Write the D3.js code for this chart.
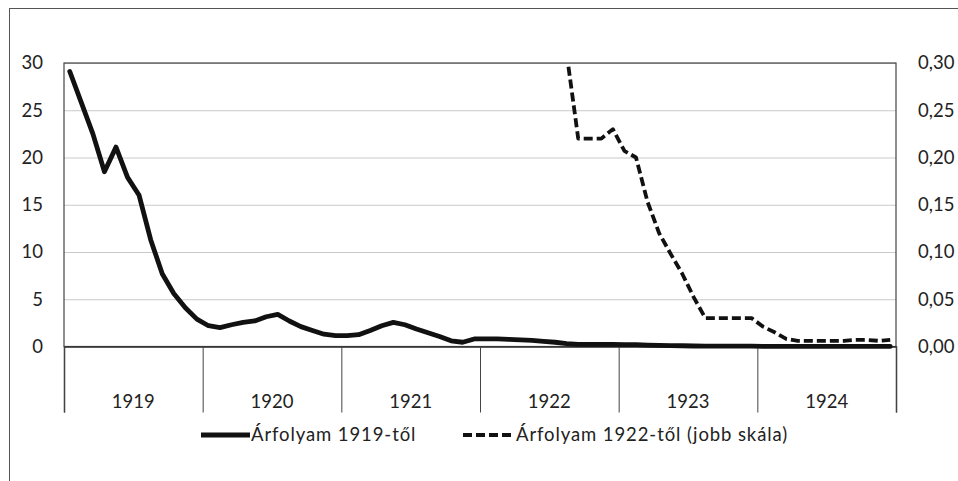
<!DOCTYPE html>
<html>
<head>
<meta charset="utf-8">
<script src="https://cdn.jsdelivr.net/npm/d3@7"></script>
<style>
    html, body { margin: 0; padding: 0; background: #fff; }
    svg { display: block; }
    text { font-family: Lato, "Noto Sans", sans-serif; fill: #222; }
</style>
</head>
<body>
<svg id="chart" width="958" height="481"></svg>
<script>
/**
 * Exchange rate chart, 1919-1924
 */
(function () {

    var years = ["1919", "1920", "1921", "1922", "1923", "1924"];
    var leftTicks = [0, 5, 10, 15, 20, 25, 30];
    var rightTicks = [0, 0.05, 0.10, 0.15, 0.20, 0.25, 0.30];

    // monthly values, Jan 1919 - Dec 1924
    var rate1919 = [29.1, 25.8, 22.5, 18.5, 21.1, 17.9, 16.0, 11.3, 7.7, 5.6, 4.1, 2.9];
    var rate1920 = [2.2, 2.0, 2.3, 2.55, 2.7, 3.15, 3.4, 2.7, 2.1, 1.7, 1.3, 1.15];
    var rate1921 = [1.15, 1.25, 1.7, 2.2, 2.55, 2.3, 1.85, 1.45, 1.05, 0.6, 0.45, 0.8];
    var rate1922 = [0.8, 0.8, 0.75, 0.7, 0.65, 0.55, 0.45, 0.31, 0.22, 0.22, 0.22, 0.23];
    var rate1923 = [0.207, 0.2, 0.153, 0.12, 0.098, 0.077, 0.052, 0.03, 0.03, 0.03, 0.03, 0.03];
    var rate1924 = [0.021, 0.015, 0.008, 0.006, 0.006, 0.006, 0.006, 0.006, 0.007, 0.007, 0.006, 0.007];

    var seriesNames = ["Árfolyam 1919-től", "Árfolyam 1922-től (jobb skála)"];
    var dashedFrom = 36; // second series starts in January 1922

    var rates = [].concat(rate1919, rate1920, rate1921, rate1922, rate1923, rate1924);

    var plot = { left: 64, right: 896, top: 63, bottom: 346.5 };
    var months = rates.length;
    var fontSize = 18.5;

    var svg = d3.select("#chart");
    var huFormat = d3.formatLocale({ decimal: ",", thousands: " ", grouping: [3], currency: ["", " Ft"] }).format(".2f");

    // outer frame (runs off the right and bottom edges)
    svg.append("rect")
        .attr("x", 9.5).attr("y", 8.5)
        .attr("width", 1000).attr("height", 600)
        .attr("fill", "none")
        .attr("stroke", "#555")
        .attr("stroke-width", 1);

    var x = d3.scaleLinear().domain([0, months]).range([plot.left, plot.right]);
    var yLeft = d3.scaleLinear().domain([0, 30]).range([plot.bottom, plot.top]);
    var yRight = d3.scaleLinear().domain([0, 0.30]).range([plot.bottom, plot.top]);

    svg.append("clipPath").attr("id", "plotClip")
        .append("rect")
        .attr("x", plot.left).attr("y", plot.top)
        .attr("width", plot.right - plot.left)
        .attr("height", plot.bottom - plot.top);

    // gridlines
    svg.append("g")
        .attr("transform", "translate(" + plot.left + ",0)")
        .call(d3.axisLeft(yLeft).tickValues(leftTicks).tickSize(-(plot.right - plot.left)).tickFormat(""))
        .call(function (g) {
            g.select(".domain").remove();
            g.selectAll("line").attr("stroke", "#c9c9c9").attr("stroke-width", 1.2);
        });

    // plot border
    svg.append("rect")
        .attr("x", plot.left).attr("y", plot.top)
        .attr("width", plot.right - plot.left)
        .attr("height", plot.bottom - plot.top)
        .attr("fill", "none")
        .attr("stroke", "#444")
        .attr("stroke-width", 1.2);

    // left axis labels
    svg.append("g")
        .attr("transform", "translate(" + plot.left + ",0)")
        .call(d3.axisLeft(yLeft).tickValues(leftTicks).tickSize(0).tickPadding(21).tickFormat(d3.format("d")))
        .call(function (g) {
            g.select(".domain").remove();
            g.selectAll("text").attr("font-size", fontSize).style("font-family", null);
        });

    // right axis labels
    svg.append("g")
        .attr("transform", "translate(" + plot.right + ",0)")
        .call(d3.axisRight(yRight).tickValues(rightTicks).tickSize(0).tickPadding(22).tickFormat(huFormat))
        .call(function (g) {
            g.select(".domain").remove();
            g.selectAll("text").attr("font-size", fontSize).style("font-family", null);
        });

    // year separators and labels
    var yearBounds = d3.range(years.length + 1).map(function (i) { return i * 12; });
    svg.append("g")
        .attr("transform", "translate(0," + plot.bottom + ")")
        .call(d3.axisBottom(x).tickValues(yearBounds).tickSize(66).tickFormat(""))
        .call(function (g) {
            g.select(".domain").attr("stroke", "#333").attr("stroke-width", 1.5);
            g.selectAll("line").attr("stroke", "#444");
        });

    svg.append("g").selectAll("text")
        .data(years)
        .enter().append("text")
        .attr("x", function (d, i) { return x(i * 12 + 6); })
        .attr("y", 402)
        .attr("dy", "0.35em")
        .attr("text-anchor", "middle")
        .attr("font-size", fontSize)
        .text(function (d) { return d; });

    // series
    var solidLine = d3.line()
        .x(function (d, i) { return x(i + 0.5); })
        .y(function (d) { return yLeft(d); });

    var dashedLine = d3.line()
        .x(function (d, i) { return x(i + dashedFrom + 0.5); })
        .y(function (d) { return yRight(d); });

    svg.append("path")
        .datum(rates.slice(dashedFrom))
        .attr("clip-path", "url(#plotClip)")
        .attr("fill", "none")
        .attr("stroke", "#111")
        .attr("stroke-width", 3.8)
        .attr("stroke-dasharray", "9,4")
        .attr("stroke-linejoin", "round")
        .attr("d", dashedLine);

    svg.append("path")
        .datum(rates)
        .attr("fill", "none")
        .attr("stroke", "#111")
        .attr("stroke-width", 4.8)
        .attr("stroke-linejoin", "round")
        .attr("stroke-linecap", "round")
        .attr("d", solidLine);

    // legend
    var legend = svg.append("g").attr("transform", "translate(0,435)");
    var legendItems = [
        { name: seriesNames[0], x0: 201, x1: 250, dash: null, width: 4.8 },
        { name: seriesNames[1], x0: 463, x1: 515, dash: "9,4", width: 3.8 }
    ];
    legendItems.forEach(function (item) {
        legend.append("line")
            .attr("x1", item.x0).attr("x2", item.x1)
            .attr("y1", 0).attr("y2", 0)
            .attr("stroke", "#111")
            .attr("stroke-width", item.width)
            .attr("stroke-dasharray", item.dash);
        legend.append("text")
            .attr("x", item.x1 + 1)
            .attr("y", 0)
            .attr("dy", "0.35em")
            .attr("font-size", fontSize)
            .attr("letter-spacing", 0.9)
            .text(item.name);
    });

})();
</script>
</body>
</html>
